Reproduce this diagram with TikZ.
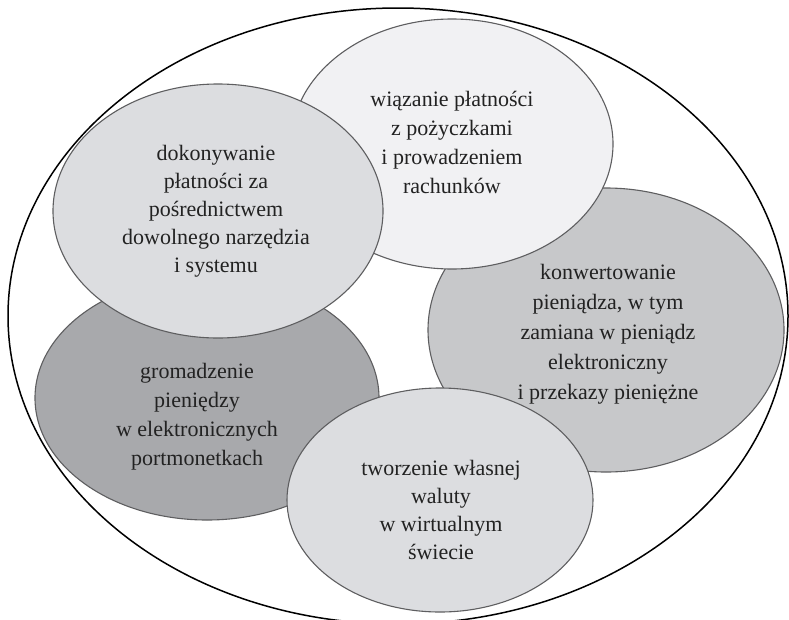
\documentclass[tikz,border=0pt]{standalone}
\usepackage{fontspec}
\setmainfont{Liberation Serif}
\usetikzlibrary{shapes.geometric}
\definecolor{fA}{HTML}{F1F1F3}
\definecolor{fB}{HTML}{DCDDE0}
\definecolor{fC}{HTML}{A8A9AC}
\definecolor{fD}{HTML}{C7C8CA}
\definecolor{lineG}{HTML}{5E5E60}
\definecolor{txt}{HTML}{222222}
\tikzset{
  blob/.style={ellipse, draw=lineG, line width=1.1pt, inner sep=0pt, outer sep=0pt},
  outerring/.style={ellipse, draw=black, line width=1.5pt, inner sep=0pt, outer sep=0pt},
  lbl/.style={align=center, text=txt, inner sep=0pt, font=\fontsize{22}{29}\selectfont}
}
\begin{document}
\begin{tikzpicture}[x=1pt,y=-1pt]
\useasboundingbox (0,0) rectangle (789,619);
\fill[white] (0,0) rectangle (789,619);
\node[outerring, minimum width=780pt, minimum height=616pt] (ring) at (398,316) {};
\node[blob, fill=fD, minimum width=356pt, minimum height=284pt] (konw) at (606,330) {};
\node[blob, fill=fC, minimum width=344pt, minimum height=244pt] (grom) at (207,398) {};
\node[blob, fill=fB, minimum width=306pt, minimum height=224pt] (twor) at (440,500) {};
\node[blob, fill=fA, minimum width=322pt, minimum height=250pt] (wiaz) at (452,144) {};
\node[blob, fill=fB, minimum width=330pt, minimum height=254pt] (doko) at (218,211) {};
\node[lbl] (tw) at (452,142) {wiązanie płatności\\z pożyczkami\\i prowadzeniem\\rachunków};
\node[lbl, font=\fontsize{22}{28}\selectfont] (td) at (216,211) {dokonywanie\\płatności za~\\pośrednictwem\\dowolnego narzędzia\\i systemu};
\node[lbl, font=\fontsize{22}{30}\selectfont] (tk) at (608,334) {konwertowanie\\pieniądza, w tym\\zamiana w pieniądz\\elektroniczny\\i przekazy pieniężne};
\node[lbl] (tg) at (197,417) {gromadzenie\\pieniędzy\\w elektronicznych\\portmonetkach};
\node[lbl, font=\fontsize{22}{28}\selectfont] (tt) at (441,510) {tworzenie własnej\\waluty\\w wirtualnym\\świecie};
\end{tikzpicture}
\end{document}
